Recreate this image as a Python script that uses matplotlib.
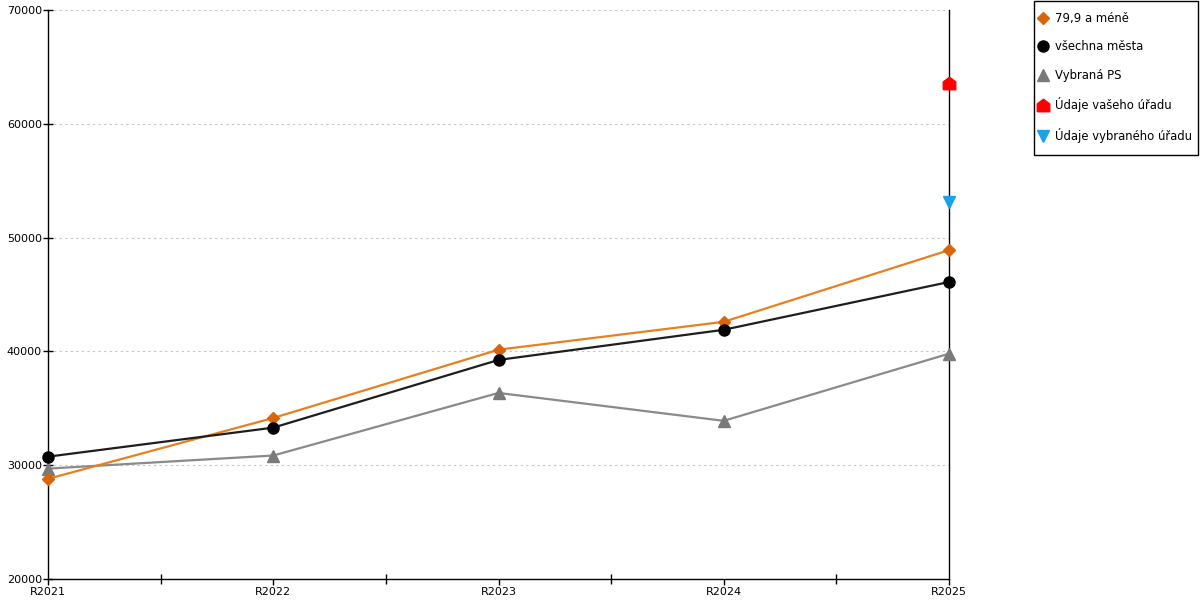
import numpy as np
import matplotlib
matplotlib.use("Agg")
import matplotlib.pyplot as plt
from matplotlib.lines import Line2D
from matplotlib.patches import Rectangle

years = ["R2021", "R2022", "R2023", "R2024", "R2025"]
small_cities = [28800, 34150, 40150, 42600, 48900]   # 79,9 a méně
all_cities = [30750, 33300, 39250, 41900, 46100]     # všechna města
selected_ps = [29700, 30850, 36350, 33900, 39800]    # Vybraná PS
your_office = 63550                                   # Údaje vašeho úřadu (R2025)
picked_office = 53150                                 # Údaje vybraného úřadu (R2025)
legend_labels = ["79,9 a méně", "všechna města", "Vybraná PS",
                 "Údaje vašeho úřadu", "Údaje vybraného úřadu"]

house = [(-1, -1), (1, -1), (1, 0.25), (0, 1), (-1, 0.25), (-1, -1)]

plt.rcParams['font.family'] = ['DejaVu Sans']

W, H = 1200, 600
fig = plt.figure(figsize=(12, 6), dpi=100)
ax = fig.add_axes([48 / W, 21 / H, 901 / W, 569 / H])

x = np.arange(len(years))

ax.plot(x, small_cities, color="#e8801f", lw=1.6, marker="D", ms=6.3,
        mfc="#d9650a", mec="#d9650a", zorder=4, clip_on=False)
ax.plot(x, all_cities, color="#1e1e1e", lw=1.6, marker="o", ms=8,
        mfc="black", mec="black", zorder=4, clip_on=False)
ax.plot(x, selected_ps, color="#8a8a8a", lw=1.6, marker="^", ms=8.5,
        mfc="#7a7a7a", mec="#7a7a7a", zorder=3, clip_on=False)
ax.plot([x[-1]], [your_office], ls="none", marker=house, ms=9,
        color="#ff0000", zorder=5, clip_on=False)
ax.plot([x[-1]], [picked_office], ls="none", marker="v", ms=8.5,
        color="#1aa3e8", zorder=5, clip_on=False)

ax.set_xlim(0, len(years) - 1)
ax.set_ylim(20000, 70000)
ax.set_yticks(np.arange(20000, 70001, 10000))
ax.set_xticks(x)
ax.set_xticklabels(years)
ax.set_xticks(x[:-1] + 0.5, minor=True)

ax.grid(axis="y", color="#c4c4c4", ls=(0, (2, 3)), lw=0.8)
ax.set_axisbelow(True)

ax.spines["top"].set_visible(False)
for s in ["left", "bottom", "right"]:
    ax.spines[s].set_color("black")
    ax.spines[s].set_linewidth(1.0)
    ax.spines[s].set_zorder(2)

ax.tick_params(axis="both", which="both", direction="inout", length=7,
               width=1, labelsize=8, colors="black", pad=1)
ax.tick_params(axis="x", which="major", direction="out", length=4, pad=2)

# legend: frame drawn separately so its size matches the reference box
handles = [
    Line2D([], [], ls="none", marker="D", ms=6.3, color="#d9650a"),
    Line2D([], [], ls="none", marker="o", ms=8, color="black"),
    Line2D([], [], ls="none", marker="^", ms=8.5, color="#7a7a7a"),
    Line2D([], [], ls="none", marker=house, ms=9, color="#ff0000"),
    Line2D([], [], ls="none", marker="v", ms=8.5, color="#1aa3e8"),
]
fig.legend(handles, legend_labels, loc="upper left",
           bbox_to_anchor=(1039 / W, 1 - 12 / H),
           fontsize=8.4, frameon=False,
           handlelength=0.7, handletextpad=0.67, labelspacing=1.32,
           borderpad=0, borderaxespad=0)
fig.add_artist(Rectangle((1034 / W, 1 - 155 / H), 164 / W, 154 / H,
                         transform=fig.transFigure, fill=False,
                         edgecolor="black", lw=1.0))

fig.savefig("out.png", dpi=100)
